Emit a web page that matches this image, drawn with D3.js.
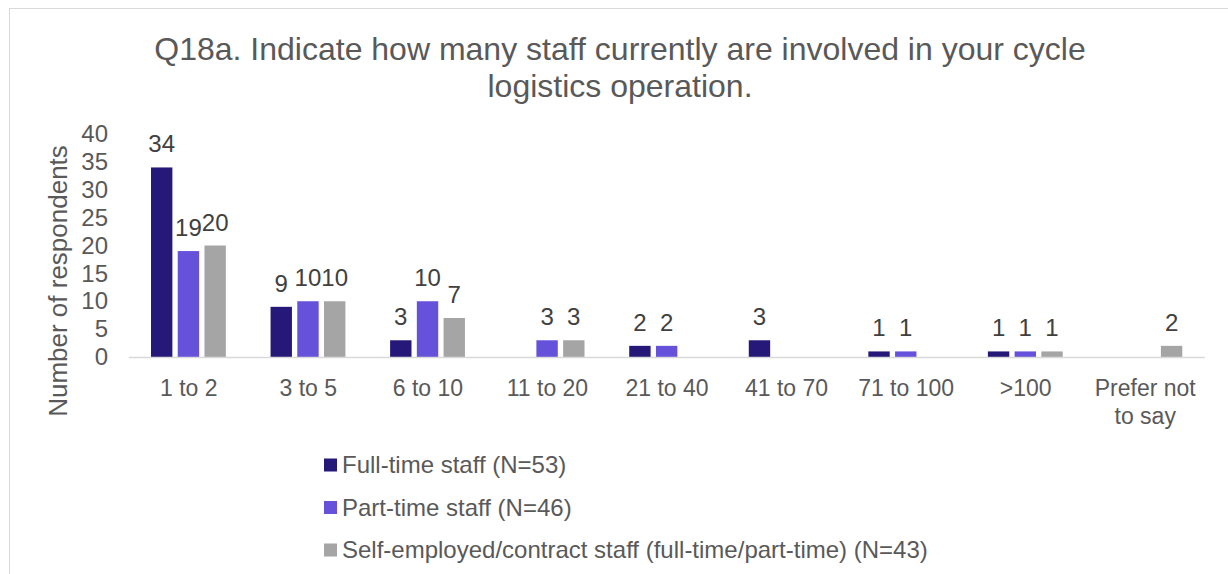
<!DOCTYPE html>
<html>
<head>
<meta charset="utf-8">
<script src="https://cdn.jsdelivr.net/npm/d3@7"></script>
<style>
  body { margin: 0; background: #fff; }
  text { font-family: Arial, "Liberation Sans", sans-serif; }
</style>
</head>
<body>
<div id="chart"></div>
<script>
// categories and values
var categories = ["1 to 2", "3 to 5", "6 to 10", "11 to 20", "21 to 40", "41 to 70", "71 to 100", ">100", "Prefer not to say"]
var seriesNames = ["Full-time staff (N=53)", "Part-time staff (N=46)", "Self-employed/contract staff (full-time/part-time) (N=43)"]
var fullTime = [34, 9, 3, 0, 2, 3, 1, 1, 0]
var partTime = [19, 10, 10, 3, 2, 0, 1, 1, 0]
var selfEmployed = [20, 10, 7, 3, 0, 0, 0, 1, 2]
var yTicks = [0, 5, 10, 15, 20, 25, 30, 35, 40]
var colors = ["#261878", "#6651DB", "#A5A5A5"]

var W = 1228, H = 574
var margin = {top: 134, left: 129, right: 23, bottom: 217}
var width = W - margin.left - margin.right,
    height = H - margin.top - margin.bottom

var svg = d3.select("#chart")
  .append("svg")
    .attr("width", W)
    .attr("height", H)

// chart border
svg.append("rect")
  .attr("x", 9.5).attr("y", 8.5)
  .attr("width", 1240).attr("height", 600)
  .attr("fill", "none")
  .attr("stroke", "#d9d9d9")

// title
var title = svg.append("text")
  .attr("text-anchor", "middle")
  .attr("fill", "#595959")
  .style("font-size", "32px")
title.append("tspan").attr("x", 620).attr("y", 60)
  .text("Q18a. Indicate how many staff currently are involved in your cycle")
title.append("tspan").attr("x", 620).attr("y", 97)
  .text("logistics operation.")

var g = svg.append("g")
  .attr("transform", "translate(" + margin.left + "," + margin.top + ")")

var x = d3.scaleBand()
  .domain(categories)
  .range([0, width])

var x1 = d3.scaleBand()
  .domain([0, 1, 2])
  .range([x.bandwidth() * 0.184, x.bandwidth() * 0.81])
  .paddingInner(0.2)

var y = d3.scaleLinear()
  .domain([0, 40])
  .range([height, 0])

// y axis
var yAxis = g.append("g")
  .call(d3.axisLeft(y).tickValues(yTicks).tickSize(0).tickPadding(21))
yAxis.select(".domain").remove()
yAxis.selectAll("text")
  .attr("fill", "#595959")
  .style("font-size", "24px")

// y label
svg.append("text")
  .attr("transform", "translate(67,281) rotate(-90)")
  .attr("text-anchor", "middle")
  .attr("fill", "#595959")
  .style("font-size", "26px")
  .text("Number of respondents")

var data = categories.map(function(c, i) {
  return {cat: c, vals: [fullTime[i], partTime[i], selfEmployed[i]]}
})

var groups = g.selectAll(".grp")
  .data(data)
  .enter()
  .append("g")
  .attr("class", "grp")
  .attr("transform", function(d) { return "translate(" + x(d.cat) + ",0)" })

groups.selectAll("rect")
  .data(function(d) { return d.vals.map(function(v, k) { return {v: v, k: k} }) })
  .enter()
  .filter(function(d) { return d.v > 0 })
  .append("rect")
  .attr("x", function(d) { return x1(d.k) })
  .attr("y", function(d) { return y(d.v) })
  .attr("width", x1.bandwidth())
  .attr("height", function(d) { return height - y(d.v) })
  .attr("fill", function(d) { return colors[d.k] })

groups.selectAll(".lbl")
  .data(function(d) { return d.vals.map(function(v, k) { return {v: v, k: k} }) })
  .enter()
  .filter(function(d) { return d.v > 0 })
  .append("text")
  .attr("class", "lbl")
  .attr("x", function(d) { return x1(d.k) + x1.bandwidth() / 2 })
  .attr("y", function(d) { return y(d.v) - 15 })
  .attr("text-anchor", "middle")
  .attr("fill", "#404040")
  .style("font-size", "24px")
  .text(function(d) { return d.v })

// x axis line
g.append("line")
  .attr("x1", 0).attr("x2", width)
  .attr("y1", height + 0.5).attr("y2", height + 0.5)
  .attr("stroke", "#d9d9d9")
  .attr("stroke-width", 1.5)

// x labels (wrapped)
g.selectAll(".xl")
  .data(categories)
  .enter()
  .append("text")
  .attr("class", "xl")
  .attr("text-anchor", "middle")
  .attr("fill", "#595959")
  .style("font-size", "23px")
  .each(function(d) {
    var lines = d == "Prefer not to say" ? ["Prefer not", "to say"] : [d]
    var t = d3.select(this)
    lines.forEach(function(l, i) {
      t.append("tspan")
        .attr("x", x(d) + x.bandwidth() / 2)
        .attr("y", height + 39 + i * 28)
        .text(l)
    })
  })

// legend
var legend = svg.selectAll(".leg")
  .data(seriesNames)
  .enter()
  .append("g")
  .attr("class", "leg")
  .attr("transform", function(d, i) { return "translate(324," + (465 + i * 42.5) + ")" })
legend.append("rect")
  .attr("x", 0).attr("y", -6.5)
  .attr("width", 13).attr("height", 13)
  .attr("fill", function(d, i) { return colors[i] })
legend.append("text")
  .attr("x", 18).attr("y", 0)
  .attr("dy", "0.35em")
  .attr("fill", "#595959")
  .style("font-size", "24px")
  .text(function(d) { return d })
</script>
</body>
</html>
